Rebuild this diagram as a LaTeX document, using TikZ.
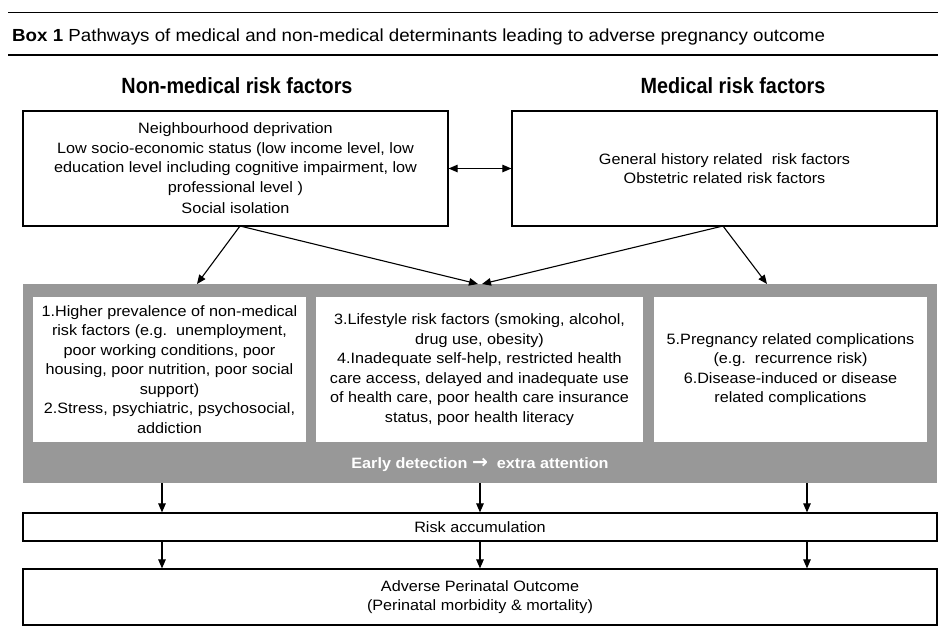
\documentclass[tikz,border=0pt]{standalone}
\usepackage{fontspec}
\setmainfont{Liberation Sans}
\newfontfamily\boxfont{Liberation Sans}[FakeStretch=1.08]
\newfontfamily\titlefont{Liberation Sans}[FakeStretch=1.07]
\newfontfamily\headfont{Liberation Sans}[FakeStretch=0.9]
\newfontfamily\arrowfont{DejaVu Sans}
\usetikzlibrary{arrows.meta}
\definecolor{bandgray}{RGB}{152,152,152}
\tikzset{
  box/.style={draw=black, line width=1.2pt, fill=white, inner sep=0pt},
  inbox/.style={draw=none, fill=white, inner sep=0pt},
  txt/.style={font=\boxfont\fontsize{15}{19.5}\selectfont, align=center},
  head/.style={font=\headfont\fontsize{22}{24}\selectfont\bfseries},
  arr/.style={line width=1.1pt, -{Triangle[length=9pt,width=7.5pt]}},
  darr/.style={line width=1.1pt, {Triangle[length=9pt,width=7.5pt]}-{Triangle[length=9pt,width=7.5pt]}},
  rule/.style={line width=1.4pt}
}
\begin{document}
\begin{tikzpicture}[x=1pt,y=-1pt]
\useasboundingbox (0,0) rectangle (938,641);
% title rules
\coordinate (r1a) at (8,12.7); \coordinate (r1b) at (938,12.7);
\coordinate (r2a) at (8,55); \coordinate (r2b) at (938,55);
\draw[rule] (r1a) -- (r1b);
\draw[rule] (r2a) -- (r2b);
\node[anchor=west, inner sep=0pt, font=\titlefont\fontsize{17.5}{20}\selectfont] (title) at (12,36.5)
  {\textbf{Box 1} Pathways of medical and non-medical determinants leading to adverse pregnancy outcome};
% headers
\node[head] (hl) at (237,86) {Non-medical risk factors};
\node[head] (hr) at (733,86) {Medical risk factors};
% top boxes
\node[box, minimum width=425pt, minimum height=115pt] (lbox) at (235.5,168.5) {};
\node[txt] (ltxt) at (lbox.center) {Neighbourhood deprivation\\
Low socio-economic status (low income level, low\\
education level including cognitive impairment, low\\
professional level )\\[2pt]
Social isolation};
\node[box, minimum width=425pt, minimum height=115pt] (rbox) at (724.5,168.5) {};
\node[txt] (rtxt) at (rbox.center) {General history related\ \ risk factors\\
Obstetric related risk factors};
\draw[darr] (lbox.east) -- (rbox.west);
% gray band
\node[draw=none, fill=bandgray, minimum width=914pt, minimum height=199pt, inner sep=0pt] (band) at (480,383.5) {};
\node[inbox, minimum width=273pt, minimum height=145pt] (b1) at (169.5,369.5) {};
\node[inbox, minimum width=327pt, minimum height=145pt] (b2) at (479.5,369.5) {};
\node[inbox, minimum width=273pt, minimum height=145pt] (b3) at (790.5,369.5) {};
\node[txt] (t1) at (b1.center) {1.Higher prevalence of non-medical\\
risk factors (e.g.\ \ unemployment,\\
poor working conditions, poor\\
housing, poor nutrition, poor social\\
support)\\
2.Stress, psychiatric, psychosocial,\\
addiction};
\node[txt] (t2) at (b2.center) {3.Lifestyle risk factors (smoking, alcohol,\\
drug use, obesity)\\
4.Inadequate self-help, restricted health\\
care access, delayed and inadequate use\\
of health care, poor health care insurance\\
status, poor health literacy};
\node[txt] (t3) at (b3.center) {5.Pregnancy related complications\\
(e.g.\ \ recurrence risk)\\
6.Disease-induced or disease\\
related complications};
\node[font=\boxfont\fontsize{15}{17}\selectfont\bfseries, text=white] (early) at (480,465) {Early detection {\arrowfont\bfseries\fontsize{19}{15}\selectfont →}\ \ extra attention};
% arrows into band
\coordinate (lout) at (240,226);
\coordinate (rout) at (723,226);
\coordinate (a1) at (197,284);
\coordinate (a2) at (478,284);
\coordinate (a3) at (482,284);
\coordinate (a4) at (767,284);
\draw[arr] (lout) -- (a1);
\draw[arr] (lout) -- (a2);
\draw[arr] (rout) -- (a3);
\draw[arr] (rout) -- (a4);
% bottom boxes
\node[box, minimum width=914pt, minimum height=28pt] (risk) at (480,527) {};
\node[txt] (risktxt) at (risk.center) {Risk accumulation};
\node[box, minimum width=914pt, minimum height=56pt] (adv) at (480,597) {};
\node[txt] (advtxt) at (adv.center) {Adverse Perinatal Outcome\\
(Perinatal morbidity \& mortality)};
\coordinate (c1) at (162,500);
\coordinate (c2) at (480,500);
\coordinate (c3) at (807,500);
\foreach \c in {c1,c2,c3} {
  \draw[arr] (band.south -| \c) -- (risk.north -| \c);
  \draw[arr] (risk.south -| \c) -- (adv.north -| \c);
}
\end{tikzpicture}
\end{document}
